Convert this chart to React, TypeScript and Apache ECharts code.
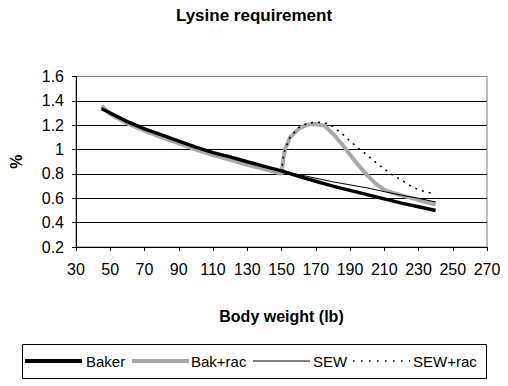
import React, { useEffect, useRef } from "react";
import * as echarts from "echarts";

const FONT = "'Liberation Sans', Arial, sans-serif";

// Body weight (lb) points for the shared pre-150 section and the later sections
const baseWeights = [45, 50, 60, 70, 80, 90, 100, 110, 120, 130, 140, 150];
const laterWeights = [160, 170, 180, 190, 200, 210, 220, 230, 240];
const racWeights = [151, 152, 155, 160, 165, 170, 175, 180, 185, 190, 195, 200, 205, 210, 215, 220, 225, 230, 235, 240];

// Lysine requirement (%)
const sewBase = [1.335, 1.3, 1.23, 1.17, 1.12, 1.07, 1.02, 0.975, 0.94, 0.9, 0.862, 0.825];
const bakerLater = [0.78, 0.74, 0.7, 0.665, 0.63, 0.595, 0.56, 0.53, 0.5];
const sewLater = [0.795, 0.765, 0.735, 0.71, 0.685, 0.655, 0.625, 0.6, 0.57];

const bakRacBase = [1.36, 1.29, 1.215, 1.155, 1.1, 1.05, 1.0, 0.955, 0.915, 0.875, 0.84, 0.8];
const bakRacLater = [0.92, 1.0, 1.1, 1.17, 1.205, 1.21, 1.195, 1.13, 1.05, 0.96, 0.87, 0.79, 0.72, 0.67, 0.645, 0.625, 0.605, 0.585, 0.565, 0.55];
const sewRacLater = [0.93, 1.0, 1.1, 1.18, 1.215, 1.225, 1.22, 1.19, 1.135, 1.07, 1.01, 0.955, 0.895, 0.84, 0.79, 0.75, 0.705, 0.67, 0.65, 0.635];

const xTickMin = 30;
const xTickMax = 270;
const xTickStep = 20;
const yTickMin = 0.2;
const yTickMax = 1.6;
const yTickStep = 0.2;

const seriesNames = ["Baker", "Bak+rac", "SEW", "SEW+rac"];

const BAK_RAC_GRAY = "#a8a8a8";

function pairs(ws: number[], vs: number[]) {
  return ws.map((w, i) => [w - xTickMin, vs[i]]);
}

export default function App() {
  const ref = useRef<HTMLDivElement>(null);
  useEffect(() => {
    if (!ref.current) return;
    const chart = echarts.init(ref.current, undefined, { renderer: "svg" });
    const baker = pairs(baseWeights.concat(laterWeights), sewBase.concat(bakerLater));
    const sew = pairs(baseWeights.concat(laterWeights), sewBase.concat(sewLater));
    const bakRac = pairs(baseWeights.concat(racWeights), bakRacBase.concat(bakRacLater));
    const sewRac = pairs(baseWeights.concat(racWeights), sewBase.concat(sewRacLater));
    const splitColors = [] as string[];
    const nLines = Math.round((yTickMax - yTickMin) / yTickStep) + 1;
    for (let i = 0; i < nLines; i++) splitColors.push(i === nLines - 1 ? "#808080" : "#000000");

    const legendY = 361;
    const legendItems = [
      { x: 25, tx: 86, style: { stroke: "#000", lineWidth: 4 } },
      { x: 132, tx: 191, style: { stroke: BAK_RAC_GRAY, lineWidth: 4 } },
      { x: 253, tx: 313, style: { stroke: "#000", lineWidth: 1 } },
      { x: 353, tx: 413, style: { stroke: "#000", lineWidth: 1.5, lineDash: [1.5, 6.5] } },
    ];
    const legendGraphics: any[] = [
      {
        type: "rect",
        shape: { x: 22.5, y: 344.5, width: 464, height: 34 },
        style: { fill: "none", stroke: "#000", lineWidth: 1 },
        silent: true,
      },
    ];
    legendItems.forEach((it, i) => {
      legendGraphics.push({
        type: "line",
        shape: { x1: it.x, y1: legendY, x2: it.x + 57, y2: legendY },
        style: it.style,
        silent: true,
      });
      legendGraphics.push({
        type: "text",
        x: it.tx,
        y: legendY,
        style: {
          text: seriesNames[i],
          fontFamily: FONT,
          fontSize: 15,
          fill: "#000",
          verticalAlign: "middle",
          align: "left",
        },
        silent: true,
      });
    });

    chart.setOption({
      animation: false,
      backgroundColor: "#ffffff",
      textStyle: { fontFamily: FONT },
      title: {
        text: "Lysine requirement",
        left: "center",
        top: 7,
        padding: 0,
        textStyle: { fontFamily: FONT, fontSize: 17, fontWeight: "bold", color: "#000" },
      },
      grid: {
        left: 72,
        right: 21,
        top: 76.5,
        bottom: 139,
        show: true,
        borderColor: "#808080",
        borderWidth: 1,
        backgroundColor: "transparent",
      },
      legend: { show: false },
      graphic: legendGraphics,
      xAxis: {
        type: "value",
        min: 0,
        max: xTickMax - xTickMin,
        interval: xTickStep,
        name: "Body weight (lb)",
        nameLocation: "middle",
        nameGap: 61,
        nameTextStyle: { fontFamily: FONT, fontSize: 16, fontWeight: "bold", color: "#000" },
        axisLine: { show: true, lineStyle: { color: "#000", width: 1 } },
        axisTick: { show: true, inside: false, length: 4, lineStyle: { color: "#000" } },
        axisLabel: {
          margin: 14,
          fontFamily: FONT,
          fontSize: 16,
          color: "#000",
          formatter: (v: number) => String(v + xTickMin),
        },
        splitLine: { show: false },
      },
      yAxis: {
        type: "value",
        min: yTickMin,
        max: yTickMax,
        interval: yTickStep,
        name: "%",
        nameLocation: "middle",
        nameRotate: 90,
        nameGap: 52,
        nameTextStyle: { fontFamily: FONT, fontSize: 16, fontWeight: "bold", color: "#000" },
        axisLine: { show: true, lineStyle: { color: "#000", width: 1 } },
        axisTick: { show: true, inside: false, length: 4, lineStyle: { color: "#000" } },
        axisLabel: {
          margin: 12,
          fontFamily: FONT,
          fontSize: 16,
          color: "#000",
          formatter: (v: number) => String(Math.round(v * 10) / 10),
        },
        splitLine: { show: true, lineStyle: { color: splitColors, width: 1 } },
      },
      series: [
        {
          name: seriesNames[0],
          type: "line",
          data: baker,
          showSymbol: false,
          symbol: "none",
          z: 5,
          lineStyle: { color: "#000", width: 3.5 },
          itemStyle: { color: "#000" },
        },
        {
          name: seriesNames[1],
          type: "line",
          data: bakRac,
          showSymbol: false,
          symbol: "none",
          z: 3,
          lineStyle: { color: BAK_RAC_GRAY, width: 4 },
          itemStyle: { color: BAK_RAC_GRAY },
        },
        {
          name: seriesNames[2],
          type: "line",
          data: sew,
          showSymbol: false,
          symbol: "none",
          z: 4,
          lineStyle: { color: "#000", width: 1 },
          itemStyle: { color: "#000" },
        },
        {
          name: seriesNames[3],
          type: "line",
          data: sewRac,
          showSymbol: false,
          symbol: "none",
          z: 4,
          lineStyle: { color: "#000", width: 1.5, type: [2, 5] },
          itemStyle: { color: "#000" },
        },
      ],
    });
    return () => chart.dispose();
  }, []);
  return <div ref={ref} style={{ width: 508, height: 386, position: "absolute", left: 0, top: 0 }} />;
}
